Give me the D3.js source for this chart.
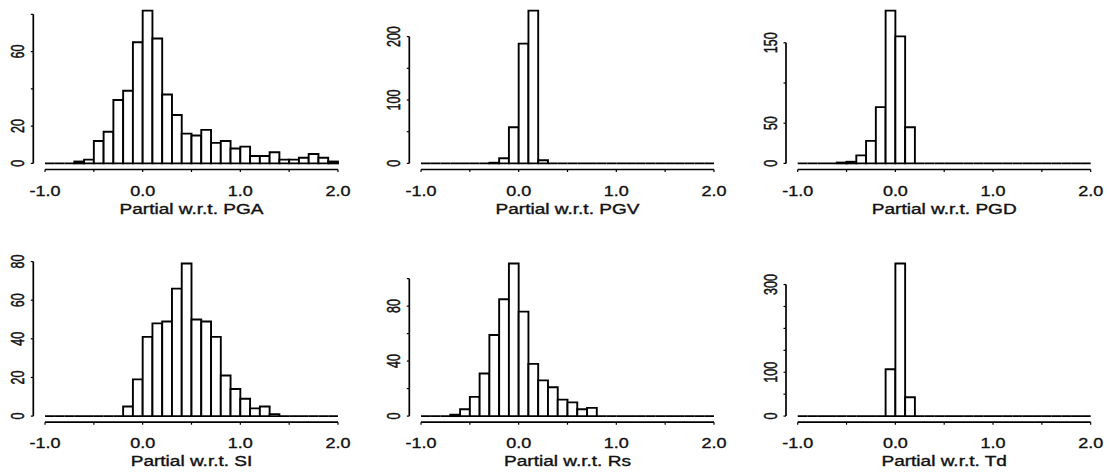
<!DOCTYPE html>
<html lang="en">
<head>
<meta charset="utf-8">
<title>Partial derivative histograms</title>
<script src="https://d3js.org/d3.v7.min.js"></script>
<style>
  body { margin: 0; background: #fff; }
  text { font-family: "Liberation Sans", Arial, Helvetica, sans-serif; fill: #111; stroke: #111; stroke-width: 0.35px; }
</style>
</head>
<body>
<script>
// bin edges shared by all six histograms (width 0.1)
var binEdges = [-1.0, -0.9, -0.8, -0.7, -0.6, -0.5, -0.4, -0.3, -0.2, -0.1,
                 0.0,  0.1,  0.2,  0.3,  0.4,  0.5,  0.6,  0.7,  0.8,  0.9,
                 1.0,  1.1,  1.2,  1.3,  1.4,  1.5,  1.6,  1.7,  1.8,  1.9, 2.0];

// counts per bin
var countsPGA = [0,0,0,1,2,12,17,34,39,65,82,67,37,26,16,15,18,11,12,8,9,4,4,6,2,2,3,5,3,1];
var countsPGV = [0,0,0,0,0,0,0,1,8,57,189,241,5,0,0,0,0,0,0,0,0,0,0,0,0,0,0,0,0,0];
var countsPGD = [0,0,0,0,1,2,10,28,70,190,158,45,0,0,0,0,0,0,0,0,0,0,0,0,0,0,0,0,0,0];
var countsSI  = [0,0,0,0,0,0,0,0,5,19,41,48,49,66,79,50,49,41,21,14,9,4,5,1,0,0,0,0,0,0];
var countsRs  = [0,0,0,1,5,14,31,59,85,111,76,38,26,21,12,10,5,6,0,0,0,0,0,0,0,0,0,0,0,0];
var countsTd  = [0,0,0,0,0,0,0,0,0,107,348,43,0,0,0,0,0,0,0,0,0,0,0,0,0,0,0,0,0,0];

var titles = ["Partial w.r.t. PGA", "Partial w.r.t. PGV", "Partial w.r.t. PGD",
              "Partial w.r.t. SI", "Partial w.r.t. Rs", "Partial w.r.t. Td"];

var xTicks = [-1.0, -0.5, 0.0, 0.5, 1.0, 1.5, 2.0];
var xLabelValues = [-1.0, 0.0, 1.0, 2.0];
var xLabelText = ["-1.0", "0.0", "1.0", "2.0"];

// y ticks per panel, and which of them carry a label
var yTicks = [
  [0, 20, 40, 60, 80],
  [0, 50, 100, 150, 200],
  [0, 50, 100, 150],
  [0, 20, 40, 60, 80],
  [0, 20, 40, 60, 80, 100],
  [0, 50, 100, 150, 200, 250, 300]
];
var yLabels = [
  [0, 20, 60],
  [0, 100, 200],
  [0, 50, 150],
  [0, 20, 40, 60, 80],
  [0, 40, 80],
  [0, 100, 300]
];

var allCounts = [countsPGA, countsPGV, countsPGD, countsSI, countsRs, countsTd];

var width = 1109, height = 472;
var colLeft = [33.3, 409.3, 786];
var rowBox = [[4.5, 169.5], [257.4, 422.2]];   // top, bottom of each plot region
var plotW = 316.4;

var svg = d3.select("body").append("svg")
    .attr("width", width)
    .attr("height", height);

svg.append("rect").attr("width", width).attr("height", height).attr("fill", "#fff");

allCounts.forEach(function(counts, k) {
  var col = k % 3, row = Math.floor(k / 3);
  var left = colLeft[col], top = rowBox[row][0], bottom = rowBox[row][1];
  var maxC = d3.max(counts);

  var x = d3.scaleLinear().domain([-1.12, 2.12]).range([left, left + plotW]);
  var y = d3.scaleLinear().domain([-0.04 * maxC, 1.04 * maxC]).range([bottom, top]);

  var g = svg.append("g");

  // bars (zero-height bins drawn as flat lines, like R's hist)
  g.selectAll("path.bar")
    .data(counts)
    .enter().append("path")
      .attr("class", "bar")
      .attr("d", function(c, i) {
        var x0 = x(binEdges[i]), x1 = x(binEdges[i + 1]);
        return "M" + x0 + "," + y(0) + "V" + y(c) + "H" + x1 + "V" + y(0) + "Z";
      })
      .attr("fill", "#fff")
      .attr("stroke", "#000")
      .attr("stroke-width", 1.9)
      .attr("stroke-linejoin", "miter");

  // x axis
  g.append("line")
    .attr("x1", x(-1)).attr("x2", x(2))
    .attr("y1", bottom).attr("y2", bottom)
    .attr("stroke", "#000").attr("stroke-width", 1.7);
  g.selectAll("line.xt")
    .data(xTicks)
    .enter().append("line")
      .attr("class", "xt")
      .attr("x1", function(d) { return x(d); }).attr("x2", function(d) { return x(d); })
      .attr("y1", bottom).attr("y2", bottom + 2.5)
      .attr("stroke", "#000").attr("stroke-width", 1.2);
  g.selectAll("text.xl")
    .data(xLabelValues)
    .enter().append("text")
      .attr("class", "xl")
      .attr("text-anchor", "middle")
      .attr("font-size", 15)
      .attr("transform", function(d) { return "translate(" + x(d) + "," + (bottom + 26) + ") scale(1.2,1)"; })
      .text(function(d, i) { return xLabelText[i]; });

  // title
  g.append("text")
    .attr("text-anchor", "middle")
    .attr("font-size", 14)
    .attr("transform", "translate(" + x(0.5) + "," + (bottom + 44) + ") scale(1.36,1)")
    .text(titles[k]);

  // y axis
  var yt = yTicks[k];
  g.append("line")
    .attr("x1", left).attr("x2", left)
    .attr("y1", y(yt[0])).attr("y2", y(yt[yt.length - 1]))
    .attr("stroke", "#000").attr("stroke-width", 1.7);
  g.selectAll("line.yt")
    .data(yt)
    .enter().append("line")
      .attr("class", "yt")
      .attr("x1", left - 2.5).attr("x2", left)
      .attr("y1", function(d) { return y(d); }).attr("y2", function(d) { return y(d); })
      .attr("stroke", "#000").attr("stroke-width", 1.2);
  g.selectAll("text.yl")
    .data(yLabels[k])
    .enter().append("text")
      .attr("class", "yl")
      .attr("text-anchor", "middle")
      .attr("font-size", 12.5)
      .attr("transform", function(d) { return "translate(" + (left - 9.5) + "," + y(d) + ") rotate(-90) scale(1,1.45)"; })
      .text(function(d) { return d; });
});
</script>
</body>
</html>
